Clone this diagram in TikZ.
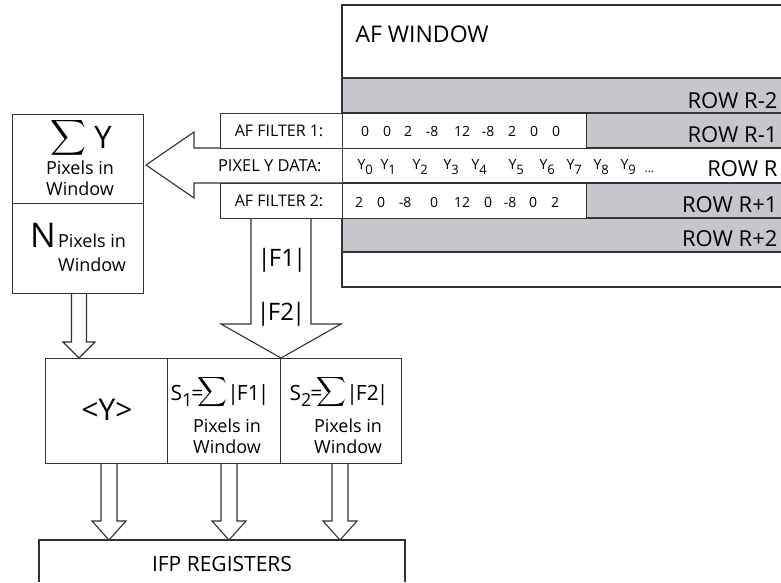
\documentclass[tikz,border=0pt]{standalone}
\usepackage{amsmath}
\usepackage{fontspec}
\setmainfont{Open Sans}
\usetikzlibrary{calc}

\definecolor{rowgray}{HTML}{C5C7CD}
\definecolor{ink}{HTML}{333333}

\newcommand\fs[1]{\fontsize{#1}{#1}\selectfont}
\newcommand\absf[1]{|\kern-2pt F#1\kern-2pt|}
% S_i = sum |Fi|
\newcommand\sline[1]{S\raisebox{-6pt}{\fs{18}#1}\hspace{-1pt}=\hspace{-6pt}\raisebox{3pt}{\fs{22}$\displaystyle\sum$}\hspace{0pt}\absf#1}
% fat down arrow: x, from, to, shaft half width, head half width, head length
\newcommand\fatdown[6]{%
  \draw[fat] let \p1=(#2), \p2=(#3) in
    (#1pt-#4pt,\y1) -- (#1pt-#4pt,\y2+#6pt) -- (#1pt-#5pt,\y2+#6pt) -- (#1pt,\y2)
    -- (#1pt+#5pt,\y2+#6pt) -- (#1pt+#4pt,\y2+#6pt) -- (#1pt+#4pt,\y1);}

\begin{document}
\begin{tikzpicture}[x=1pt, y=-1pt, line width=1.1pt, ink,
  box/.style={draw=ink, fill=white, inner sep=0pt, anchor=north west},
  fat/.style={draw=ink, fill=white, line join=miter},
  txt/.style={inner sep=0pt, anchor=base, text=black}]
\useasboundingbox (0,0) rectangle (781,582);

% AF window and its rows
\fill[rowgray] (342,78) rectangle (781,252);
\fill[white] (342,148) rectangle (781,183);
\draw (781,5) -| (342,287) -- (781,287);
\foreach \y in {78,113,148,183,218,252}
  \draw (342,\y) -- (781,\y);
\node[txt, anchor=base west, font=\fs{23}] (afwin) at (355,42) {AF WINDOW};
\foreach \lab/\yb [count=\i] in {R-2/108, R-1/142, R/176, R+1/212, R+2/246}
  \node[txt, anchor=base east, font=\fs{22}] (row\i) at (778,\yb) {ROW \lab};

% pixel data arrow
\draw[fat] (342,148) -- (194,148) -- (194,132) -- (146,165) -- (194,198) -- (194,183) -- (342,183);
\node[txt, anchor=base east, font=\fs{16.5}] (pixlbl) at (322,171) {PIXEL Y DATA:};
\foreach \i/\xx in {0/357,1/380,2/412,3/443,4/471,5/508,6/539,7/566,8/593,9/620}
  \node[txt, anchor=base west, font=\fs{14}] (y\i) at (\xx,169) {Y\raisebox{-5pt}{\fs{13}\i}};
\node[txt, anchor=base west, font=\fs{12}] (ydots) at (644,172) {\dots};

% filters
\node[box, minimum width=122, minimum height=35] (lab1) at (220,113) {};
\node[box, minimum width=244, minimum height=35] (coef1) at (342,113) {};
\node[box, minimum width=122, minimum height=35] (lab2) at (220,183) {};
\node[box, minimum width=244, minimum height=35] (coef2) at (342,183) {};
\node[txt, font=\fs{16}] (f1lbl) at (279,136) {AF FILTER 1:};
\node[txt, font=\fs{16}] (f2lbl) at (279,206) {AF FILTER 2:};
\foreach \v/\xx [count=\i] in {0/365,0/387,2/408,-8/432,12/462,-8/488,2/512,0/534,0/556}
  \node[txt, font=\fs{14}] (fa\i) at (\xx,136) {\v};
\foreach \v/\xx [count=\i] in {2/359,0/381,-8/405,0/434,12/462,0/488,-8/510,0/533,2/555}
  \node[txt, font=\fs{14}] (fb\i) at (\xx,207) {\v};

% sum box and count box
\node[box, minimum width=131, minimum height=89] (sumy) at (12,114) {};
\node[box, minimum width=131, minimum height=90] (npix) at (12,203) {};
\node[txt] (sumlbl) at (81,148) {\raisebox{4pt}{\fs{25}$\displaystyle\sum$}\hspace{8pt}{\fs{31}Y}};
\node[txt, font=\fs{18}] (sumpix) at (80,174) {Pixels in};
\node[txt, font=\fs{18}] (sumwin) at (80,195) {Window};
\node[txt, font=\fs{34}] (nlbl) at (43,247) {N};
\node[txt, font=\fs{18}] (npixl) at (92,247) {Pixels in};
\node[txt, font=\fs{18}] (nwin) at (92,271) {Window};

% result boxes
\node[box, minimum width=122, minimum height=105] (ybox) at (45,358) {};
\node[box, minimum width=113, minimum height=105] (s1box) at (167,358) {};
\node[box, minimum width=121, minimum height=105] (s2box) at (280,358) {};
\node[txt, font=\fs{30}] (avgy) at (107,420) {<Y>};
\node[txt, font=\fs{21}] (s1lbl) at (220,400) {\sline1};
\node[txt, font=\fs{18}] (s1pix) at (227,432) {Pixels in};
\node[txt, font=\fs{18}] (s1win) at (227,453) {Window};
\node[txt, font=\fs{21}] (s2lbl) at (339,400) {\sline2};
\node[txt, font=\fs{18}] (s2pix) at (348,432) {Pixels in};
\node[txt, font=\fs{18}] (s2win) at (348,453) {Window};

% registers
\draw (39,582) |- (405,540) -- (405,582);
\coordinate (ifp) at (222,540);
\node[txt, font=\fs{21}] (ifplbl) at (222,571) {IFP REGISTERS};

% block arrows
\fatdown{281}{lab2.south}{s2box.north west}{30}{60}{34}
\node[txt, font=\fs{24}] (f1abs) at (282,266) {\absf1};
\node[txt, font=\fs{24}] (f2abs) at (281,320) {\absf2};
\fatdown{79}{npix.south}{ybox.north}{7.5}{16}{16}
\fatdown{109}{ybox.south}{ifp}{8}{17}{19}
\fatdown{229}{s1box.south}{ifp}{8}{17}{19}
\fatdown{340}{s2box.south}{ifp}{8}{17}{19}
\end{tikzpicture}
\end{document}
